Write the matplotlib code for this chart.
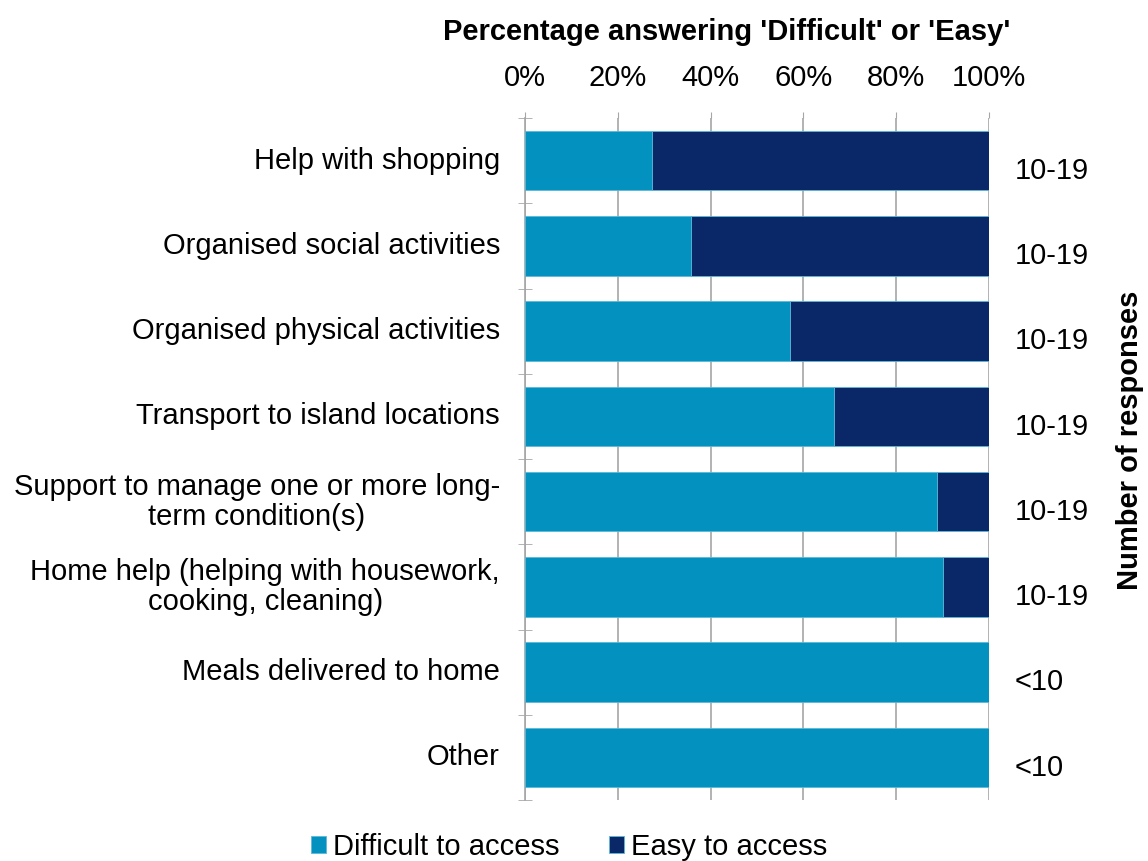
import numpy as np
import matplotlib.pyplot as plt

categories = ['Help with shopping', 'Organised social activities',
              'Organised physical activities', 'Transport to island locations',
              'Support to manage one or more long-\nterm condition(s)',
              'Home help (helping with housework,\ncooking, cleaning)',
              'Meals delivered to home', 'Other']
difficult = [27.3, 35.7, 57.1, 66.7, 88.9, 90.0, 100.0, 100.0]
easy = [72.7, 64.3, 42.9, 33.3, 11.1, 10.0, 0.0, 0.0]
responses = ['10-19', '10-19', '10-19', '10-19', '10-19', '10-19', '<10', '<10']
series_names = ['Difficult to access', 'Easy to access']
colors = ['#0391C0', '#0A2868']

plt.rcParams['font.family'] = ['Liberation Sans', 'DejaVu Sans']
fs = 21

fig = plt.figure(figsize=(11.48, 8.61), dpi=100)
ax = fig.add_axes([525/1148, 1 - 800/861, 464/1148, (800 - 118)/861])

y = np.arange(len(categories))
ax.barh(y, difficult, height=0.7, color=colors[0], edgecolor='#5BB8DA', linewidth=0.6,
        label=series_names[0], zorder=3)
ax.barh(y, easy, left=difficult, height=0.7, color=colors[1], edgecolor='#5BB8DA',
        linewidth=0.6, label=series_names[1], zorder=3)

ax.set_xlim(0, 100)
ax.set_ylim(len(categories) - 0.5, -0.5)
ax.xaxis.tick_top()
ax.set_xticks(np.arange(0, 101, 20))
ax.set_xticklabels([f'{v}%' for v in range(0, 101, 20)], fontsize=fs)
ax.tick_params(axis='x', length=4, color='#A6A6A6', pad=15)
ax.grid(axis='x', color='#A6A6A6', linewidth=1.2, zorder=0)

# category labels drawn as text so two-line labels can be centred
ax.set_yticks(y)
ax.set_yticklabels([''] * len(categories))
ax.tick_params(axis='y', which='major', length=0)
for i, c in enumerate(categories):
    ax.text(-25/464, i, c, transform=ax.get_yaxis_transform(), fontsize=fs,
            ha='right', va='center', multialignment='center', linespacing=1.1)
ax.set_yticks(np.arange(len(categories) + 1) - 0.5, minor=True)
ax.tick_params(axis='y', which='minor', length=10, direction='inout', color='#A6A6A6')

for s in ['top', 'right', 'bottom']:
    ax.spines[s].set_visible(False)
ax.spines['left'].set_color('#A6A6A6')
ax.spines['left'].set_linewidth(1.2)

fig.text(727/1148, 1 - 32/861, "Percentage answering 'Difficult' or 'Easy'",
         fontsize=fs, fontweight='bold', ha='center', va='center')

for i, r in enumerate(responses):
    ax.text(105.5, i + 0.12, r, fontsize=fs, ha='left', va='center')

fig.text(1130/1148, 1 - 440/861, 'Number of responses', rotation=90,
         fontsize=fs, fontweight='bold', ha='center', va='center')

ax.legend(loc='center', bbox_to_anchor=(0.095, -0.069), ncol=2, frameon=False,
          fontsize=fs, handlelength=0.5, handleheight=0.5, handletextpad=0.25,
          columnspacing=1.7)

fig.savefig('out.png', dpi=100)
